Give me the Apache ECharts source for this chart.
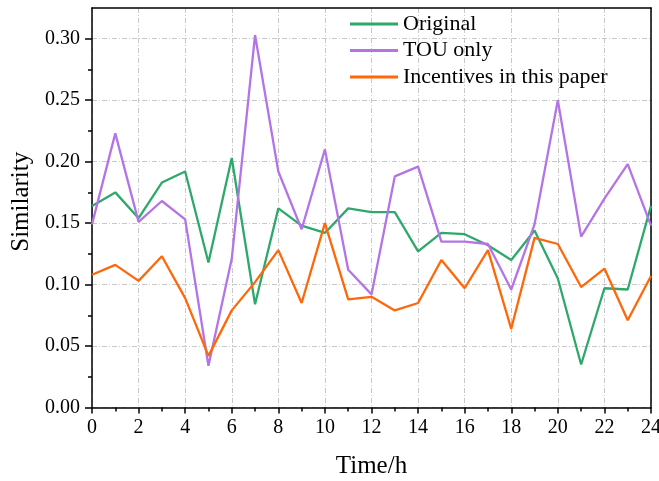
<!DOCTYPE html>
<html>
<head>
<meta charset="utf-8">
<script src="https://cdn.jsdelivr.net/npm/echarts@6/dist/echarts.min.js"></script>
<style>
  html, body { margin: 0; padding: 0; background: #fff; }
  #chart { width: 659px; height: 481px; }
</style>
</head>
<body>
<div id="chart"></div>
<script>
// Hourly similarity under three pricing schemes
const hours = [0,1,2,3,4,5,6,7,8,9,10,11,12,13,14,15,16,17,18,19,20,21,22,23,24];
const original = [0.164,0.175,0.154,0.183,0.192,0.118,0.203,0.084,0.162,0.148,0.142,0.162,0.159,0.159,0.127,0.142,0.141,0.132,0.120,0.144,0.105,0.035,0.097,0.096,0.164];
const touOnly = [0.149,0.223,0.151,0.168,0.153,0.034,0.121,0.303,0.192,0.145,0.210,0.112,0.092,0.188,0.196,0.135,0.135,0.133,0.096,0.149,0.250,0.139,0.170,0.198,0.148];
const incentives = [0.108,0.116,0.103,0.123,0.089,0.042,0.079,0.102,0.128,0.085,0.150,0.088,0.090,0.079,0.085,0.120,0.097,0.128,0.064,0.138,0.133,0.098,0.113,0.071,0.107];
const seriesNames = ['Original', 'TOU only', 'Incentives in this paper'];
const yMajor = [0, 0.05, 0.10, 0.15, 0.20, 0.25, 0.30];
const yMinor = [0.025, 0.075, 0.125, 0.175, 0.225, 0.275];

const FONT = "'Liberation Serif', 'Times New Roman', serif";
const colors = ['#2fa86b', '#b474e6', '#ff680a'];

const pairs = vals => hours.map((h, i) => [h, vals[i]]);

const gridLine = { show: true, lineStyle: { color: '#c8c8c8', width: 1, type: [5, 2, 1, 2] } };
const frameLine = { show: true, onZero: false, lineStyle: { color: '#000', width: 1.5 } };
const hidden = { show: false };

const chart = echarts.init(document.getElementById('chart'), null, { renderer: 'canvas' });
chart.setOption({
  animation: false,
  backgroundColor: '#fff',
  color: colors,
  grid: {
    left: 92, right: 8, top: 8, bottom: 73.5,
    outerBoundsMode: 'none', containLabel: false
  },
  legend: {
    data: seriesNames,
    orient: 'vertical',
    left: 350, top: 13,
    padding: 0,
    itemGap: 4.5,
    itemWidth: 48, itemHeight: 3,
    icon: 'rect',
    textStyle: { fontFamily: FONT, fontSize: 22, color: '#000', lineHeight: 22 }
  },
  xAxis: [{
    type: 'value', min: 0, max: 24, interval: 2,
    name: 'Time/h', nameLocation: 'middle', nameGap: 46,
    nameTextStyle: { fontFamily: FONT, fontSize: 25, color: '#000' },
    axisLine: frameLine,
    axisTick: { show: true, inside: false, length: 6, lineStyle: { color: '#000', width: 1.5 } },
    minorTick: { show: true, splitNumber: 2, length: 4, lineStyle: { color: '#000', width: 1.5 } },
    axisLabel: { fontFamily: FONT, fontSize: 20, color: '#000', margin: 10 },
    splitLine: gridLine
  }, {
    // top frame edge
    type: 'value', min: 0, max: 24, position: 'top',
    axisLine: frameLine, axisTick: hidden, axisLabel: hidden, splitLine: hidden
  }],
  yAxis: [{
    type: 'value', min: 0, max: 0.325, interval: 0.05,
    name: 'Similarity', nameLocation: 'middle', nameGap: 49,
    nameTextStyle: { fontFamily: FONT, fontSize: 25, color: '#000', padding: [0, 0, 0, 12] },
    axisLine: frameLine,
    axisTick: { show: true, inside: false, length: 7, customValues: yMajor, lineStyle: { color: '#000', width: 1.5 } },
    axisLabel: {
      fontFamily: FONT, fontSize: 20, color: '#000', margin: 12,
      customValues: yMajor,
      formatter: v => v.toFixed(2)
    },
    splitLine: gridLine
  }, {
    // minor ticks on the left edge
    type: 'value', min: 0, max: 0.325, position: 'left',
    axisLine: hidden,
    axisTick: { show: true, inside: false, length: 4, customValues: yMinor, lineStyle: { color: '#000', width: 1.5 } },
    axisLabel: hidden, splitLine: hidden
  }, {
    // right frame edge
    type: 'value', min: 0, max: 0.325, position: 'right',
    axisLine: frameLine, axisTick: hidden, axisLabel: hidden, splitLine: hidden
  }],
  series: [
    { name: seriesNames[0], type: 'line', data: pairs(original) },
    { name: seriesNames[1], type: 'line', data: pairs(touOnly) },
    { name: seriesNames[2], type: 'line', data: pairs(incentives) }
  ].map(s => Object.assign(s, { showSymbol: false, symbol: 'none', lineStyle: { width: 2.3 }, xAxisIndex: 0, yAxisIndex: 0 }))
});
</script>
</body>
</html>
